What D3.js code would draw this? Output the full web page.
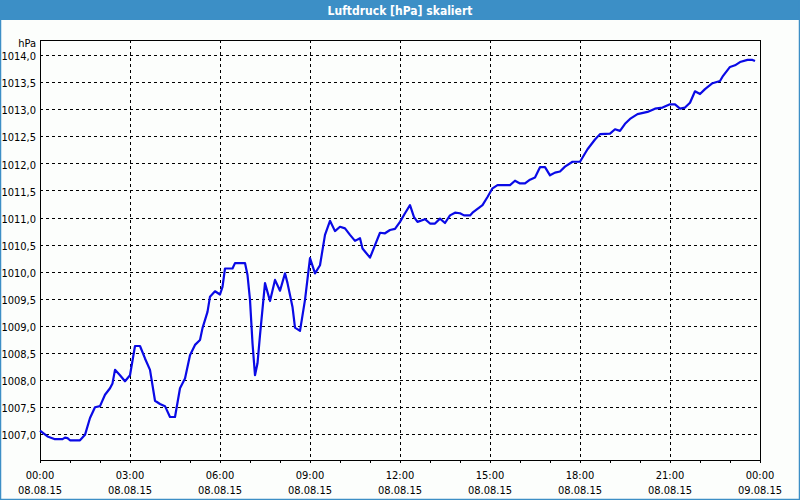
<!DOCTYPE html>
<html>
<head>
<meta charset="utf-8">
<script src="https://cdn.jsdelivr.net/npm/d3@7"></script>
<style>
html,body{margin:0;padding:0;background:#fcfefc;}
svg{display:block;}
text{font-family:"DejaVu Sans Condensed","DejaVu Sans",sans-serif;font-stretch:condensed;}
</style>
</head>
<body>
<svg id="chart" width="800" height="500"></svg>
<script>
// ---- data ----
const title = "Luftdruck [hPa] skaliert";
const unitLabel = "hPa";
const day = "2015-08-08";
const times = ["00:00","00:15","00:30","00:45","00:50","00:55","01:00","01:20","01:30","01:40","01:50","02:00","02:10","02:20","02:25","02:30","02:40","02:50","03:00","03:10","03:20","03:30","03:40","03:50","04:00","04:10","04:20","04:30","04:40","04:50","05:00","05:10","05:20","05:25","05:35","05:40","05:50","06:00","06:05","06:10","06:25","06:30","06:50","06:55","07:00","07:05","07:10","07:15","07:20","07:30","07:40","07:50","08:00","08:10","08:15","08:25","08:30","08:40","08:50","09:00","09:10","09:20","09:30","09:40","09:50","10:00","10:10","10:20","10:30","10:40","10:45","11:00","11:10","11:20","11:30","11:40","11:50","12:00","12:10","12:20","12:28","12:35","12:50","13:00","13:10","13:20","13:30","13:40","13:50","14:00","14:08","14:20","14:25","14:45","14:55","15:05","15:15","15:40","15:50","16:00","16:10","16:20","16:30","16:40","16:50","17:00","17:10","17:20","17:30","17:45","18:00","18:15","18:30","18:40","19:00","19:10","19:20","19:30","19:40","19:55","20:15","20:30","20:45","21:00","21:10","21:20","21:30","21:40","21:50","22:00","22:10","22:25","22:40","22:45","23:00","23:10","23:20","23:35","23:45","23:50"];
const pressure = [1007.07,1006.96,1006.91,1006.91,1006.94,1006.93,1006.89,1006.89,1006.99,1007.30,1007.50,1007.52,1007.73,1007.85,1007.94,1008.19,1008.09,1007.98,1008.09,1008.63,1008.63,1008.40,1008.19,1007.62,1007.56,1007.52,1007.32,1007.32,1007.85,1008.03,1008.46,1008.65,1008.74,1008.96,1009.26,1009.54,1009.64,1009.58,1009.72,1010.06,1010.06,1010.16,1010.16,1009.94,1009.48,1008.68,1008.09,1008.31,1008.83,1009.79,1009.46,1009.85,1009.65,1009.97,1009.79,1009.35,1008.97,1008.91,1009.48,1010.25,1009.97,1010.12,1010.68,1010.94,1010.75,1010.83,1010.80,1010.68,1010.57,1010.62,1010.43,1010.26,1010.49,1010.72,1010.71,1010.77,1010.79,1010.92,1011.08,1011.23,1011.01,1010.92,1010.97,1010.89,1010.89,1010.98,1010.90,1011.04,1011.09,1011.08,1011.04,1011.04,1011.09,1011.23,1011.38,1011.54,1011.60,1011.60,1011.68,1011.63,1011.63,1011.70,1011.74,1011.93,1011.93,1011.78,1011.83,1011.85,1011.94,1012.03,1012.03,1012.26,1012.44,1012.54,1012.55,1012.63,1012.60,1012.73,1012.82,1012.91,1012.95,1013.01,1013.03,1013.09,1013.09,1013.01,1013.03,1013.12,1013.33,1013.28,1013.37,1013.48,1013.52,1013.60,1013.78,1013.81,1013.87,1013.91,1013.91,1013.89];
const yTicks = [1007.0,1007.5,1008.0,1008.5,1009.0,1009.5,1010.0,1010.5,1011.0,1011.5,1012.0,1012.5,1013.0,1013.5,1014.0];
const yDomain = [1006.526, 1014.277];
const xTickTimes = ["2015-08-08T00:00","2015-08-08T03:00","2015-08-08T06:00","2015-08-08T09:00","2015-08-08T12:00","2015-08-08T15:00","2015-08-08T18:00","2015-08-08T21:00","2015-08-09T00:00"];

// ---- layout ----
const W = 800, H = 500;
const plot = {left: 40, right: 760, top: 40, bottom: 460};
const frameBlue = "#3c8fc6";

const svg = d3.select("#chart");
const parse = d3.timeParse("%Y-%m-%dT%H:%M");
const data = times.map((t, i) => ({t: parse(day + "T" + t), v: pressure[i]}));
const tickDates = xTickTimes.map(parse);

const x = d3.scaleTime().domain([tickDates[0], tickDates[tickDates.length - 1]]).range([plot.left, plot.right]);
const y = d3.scaleLinear().domain(yDomain).range([plot.bottom, plot.top]);

const locale = d3.formatLocale({decimal: ",", thousands: ".", grouping: [3], currency: ["", "€"]});
const fmtY = locale.format(".1f");
const fmtTime = d3.timeFormat("%H:%M");
const fmtDate = d3.timeFormat("%d.%m.%y");

// background + outer frame
svg.append("rect").attr("x", 0).attr("y", 0).attr("width", W).attr("height", H).attr("fill", "#fcfefc");
svg.append("rect").attr("x", 0).attr("y", 0).attr("width", W).attr("height", 20).attr("fill", frameBlue);
svg.append("rect").attr("x", 0.5).attr("y", 0.5).attr("width", W - 1).attr("height", H - 1)
  .attr("fill", "none").attr("stroke", frameBlue).attr("stroke-width", 1.5);
svg.append("text").attr("x", 400).attr("y", 15).attr("text-anchor", "middle")
  .attr("fill", "#ffffff").attr("font-weight", "bold").attr("font-size", 12).text(title);

// grid
const grid = svg.append("g").attr("shape-rendering", "crispEdges");
grid.selectAll("line.h").data(yTicks).join("line").attr("class", "h")
  .attr("x1", plot.left).attr("x2", plot.right)
  .attr("y1", d => Math.round(y(d)) + 0.5).attr("y2", d => Math.round(y(d)) + 0.5)
  .attr("stroke", "#000").attr("stroke-width", 1).attr("stroke-dasharray", "3,3");
grid.selectAll("line.v").data(tickDates.slice(1, -1)).join("line").attr("class", "v")
  .attr("y1", plot.top).attr("y2", plot.bottom)
  .attr("x1", d => Math.round(x(d)) + 0.5).attr("x2", d => Math.round(x(d)) + 0.5)
  .attr("stroke", "#000").attr("stroke-width", 1).attr("stroke-dasharray", "3,3");

// y axis labels
const yAxis = d3.axisLeft(y).tickValues(yTicks).tickSize(0).tickPadding(4).tickFormat(fmtY);
const gy = svg.append("g").attr("transform", `translate(${plot.left},0)`).call(yAxis);
gy.select(".domain").remove();
gy.selectAll("text").attr("font-size", 11).attr("fill", "#000").attr("font-family", "'DejaVu Sans Condensed','DejaVu Sans',sans-serif").attr("dy", "0.42em");
svg.append("text").attr("x", plot.left - 4).attr("y", 47).attr("text-anchor", "end")
  .attr("font-size", 11).attr("fill", "#000").text(unitLabel);

// x axis: hourly ticks
const xAxis = d3.axisBottom(x).ticks(d3.timeHour.every(1)).tickSize(3).tickFormat("");
const gx = svg.append("g").attr("transform", `translate(0,${plot.bottom})`).attr("shape-rendering", "crispEdges").call(xAxis);
gx.select(".domain").remove();
gx.selectAll(".tick line").attr("stroke", "#000");

const xl = svg.append("g").selectAll("text").data(tickDates).join("text")
  .attr("x", d => x(d)).attr("text-anchor", "middle").attr("font-size", 11).attr("fill", "#000");
xl.append("tspan").attr("x", d => x(d)).attr("y", 479).text(d => fmtTime(d));
xl.append("tspan").attr("x", d => x(d)).attr("y", 494).text(d => fmtDate(d));

// plot frame
svg.append("rect").attr("x", plot.left + 0.5).attr("y", plot.top + 0.5)
  .attr("width", plot.right - plot.left).attr("height", plot.bottom - plot.top)
  .attr("fill", "none").attr("stroke", "#000").attr("stroke-width", 1).attr("shape-rendering", "crispEdges");

// line
const line = d3.line().x(d => x(d.t)).y(d => y(d.v));
svg.append("path").datum(data).attr("d", line)
  .attr("fill", "none").attr("stroke", "#0a0ae6").attr("stroke-width", 2.2).attr("stroke-linejoin", "round");
</script>
</body>
</html>
